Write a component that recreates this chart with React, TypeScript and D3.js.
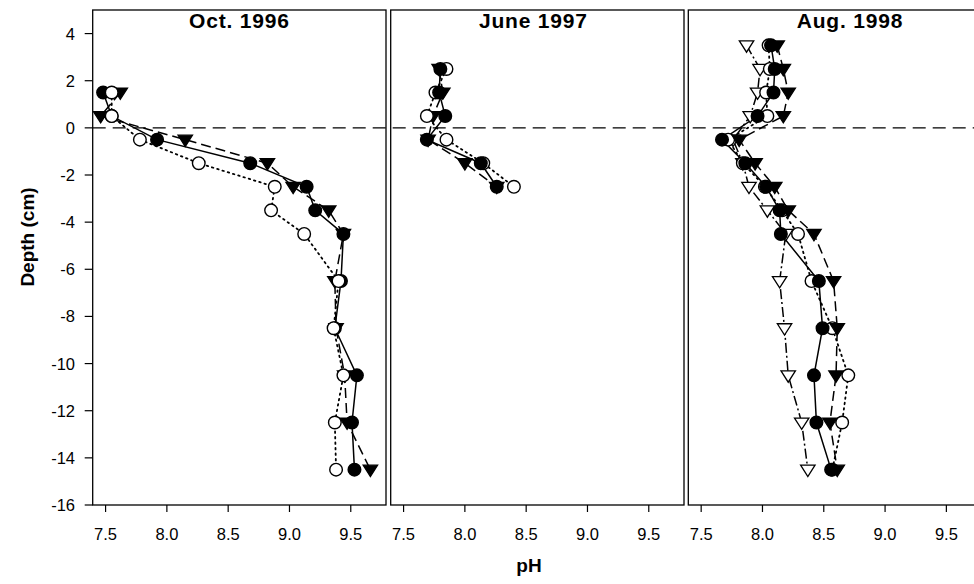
import React from "react";
import * as d3 from "d3";

// ---- data ----
const panelTitles = ["Oct. 1996", "June 1997", "Aug. 1998"];
const xTicks = [7.5, 8.0, 8.5, 9.0, 9.5];
const yTicks = [4, 2, 0, -2, -4, -6, -8, -10, -12, -14, -16];

const octDepth = [1.5, 0.5, -0.5, -1.5, -2.5, -3.5, -4.5, -6.5, -8.5, -10.5, -12.5, -14.5];
const octFilledCircle = [7.48, 7.55, 7.92, 8.68, 9.14, 9.21, 9.44, 9.42, 9.37, 9.55, 9.51, 9.53];
const octFilledTriangle = [7.62, 7.46, 8.15, 8.82, 9.03, 9.32, 9.44, 9.37, 9.38, 9.45, 9.47, 9.66];
const octOpenCircle = [7.55, 7.55, 7.78, 8.26, 8.88, 8.85, 9.12, 9.40, 9.36, 9.44, 9.37, 9.38];

const junDepth = [2.5, 1.5, 0.5, -0.5, -1.5, -2.5];
const junFilledCircle = [7.80, 7.79, 7.84, 7.69, 8.13, 8.26];
const junFilledTriangle = [7.79, 7.82, 7.74, 7.70, 8.00, 8.26];
const junOpenCircle = [7.85, 7.76, 7.69, 7.85, 8.15, 8.40];

const augDepth = [3.5, 2.5, 1.5, 0.5, -0.5, -1.5, -2.5, -3.5, -4.5, -6.5, -8.5, -10.5, -12.5, -14.5];
const augFilledCircle = [8.07, 8.10, 8.09, 7.96, 7.67, 7.86, 8.03, 8.14, 8.15, 8.46, 8.49, 8.42, 8.44, 8.56];
const augFilledTriangle = [8.12, 8.17, 8.21, 8.17, 7.81, 7.94, 8.10, 8.21, 8.42, 8.58, 8.61, 8.60, 8.55, 8.61];
const augOpenCircle = [8.05, 8.06, 8.03, 8.04, 7.72, 7.84, 8.02, 8.16, 8.29, 8.40, 8.57, 8.70, 8.65, 8.57];
const augOpenTriangle = [7.87, 7.98, 7.96, 7.90, 7.76, 7.84, 7.89, 8.04, 8.19, 8.14, 8.18, 8.21, 8.32, 8.37];

type Kind = "filledTriangle" | "filledCircle" | "openTriangle" | "openCircle";
interface Series { kind: Kind; depth: number[]; ph: number[] }

const panels: Series[][] = [
  [
    { kind: "filledTriangle", depth: octDepth, ph: octFilledTriangle },
    { kind: "filledCircle", depth: octDepth, ph: octFilledCircle },
    { kind: "openCircle", depth: octDepth, ph: octOpenCircle },
  ],
  [
    { kind: "filledTriangle", depth: junDepth, ph: junFilledTriangle },
    { kind: "openCircle", depth: junDepth, ph: junOpenCircle },
    { kind: "filledCircle", depth: junDepth, ph: junFilledCircle },
  ],
  [
    { kind: "openTriangle", depth: augDepth, ph: augOpenTriangle },
    { kind: "openCircle", depth: augDepth, ph: augOpenCircle },
    { kind: "filledCircle", depth: augDepth, ph: augFilledCircle },
    { kind: "filledTriangle", depth: augDepth, ph: augFilledTriangle },
  ],
];

// ---- layout ----
const W = 974;
const H = 584;
const panelLefts = [92.7, 390.7, 688.3];
const panelW = 293.3;
const titleDx = [0, -4, 15];
const top = 10;
const bottom = 505;
const FONT = "Arial, 'Liberation Sans', Helvetica, sans-serif";

const y = d3.scaleLinear().domain([-16, 5]).range([bottom, top]);

const dashFor: Record<Kind, string | undefined> = {
  filledCircle: undefined,
  filledTriangle: "10,5",
  openCircle: "1.5,4",
  openTriangle: "10,3,2,3",
};

function Marker({ kind, cx, cy }: { kind: Kind; cx: number; cy: number }) {
  const filled = kind === "filledCircle" || kind === "filledTriangle";
  const fill = filled ? "#000" : "#fff";
  if (kind === "filledCircle" || kind === "openCircle") {
    return <circle cx={cx} cy={cy} r={6.3} fill={fill} stroke="#000" strokeWidth={1.4} />;
  }
  const s = 7.2;
  const p = `M${cx - s},${cy - s * 0.62} L${cx + s},${cy - s * 0.62} L${cx},${cy + s * 0.95} Z`;
  return <path d={p} fill={fill} stroke="#000" strokeWidth={1.3} strokeLinejoin="miter" />;
}

function Panel({ idx }: { idx: number }) {
  const left = panelLefts[idx];
  const x = d3.scaleLinear().domain([7.395, 7.395 + panelW / 122.6]).range([left, left + panelW]);
  const line = d3
    .line<[number, number]>()
    .x((d) => x(d[0]))
    .y((d) => y(d[1]));
  const series = panels[idx];
  return (
    <g>
      <rect x={left} y={top} width={panelW} height={bottom - top} fill="none" stroke="#000" strokeWidth={1.3} />
      {xTicks.map((t) => (
        <g key={t}>
          <line x1={x(t)} x2={x(t)} y1={bottom} y2={bottom + 7} stroke="#000" strokeWidth={1.2} />
          <text x={x(t)} y={540} textAnchor="middle" fontSize={16.5} fontFamily={FONT} fill="#000">
            {t.toFixed(1)}
          </text>
        </g>
      ))}
      <text
        x={left + panelW / 2 + titleDx[idx]}
        y={28}
        textAnchor="middle"
        fontSize={21}
        fontWeight="bold"
        letterSpacing={0.8}
        fontFamily={FONT}
        fill="#000"
      >
        {panelTitles[idx]}
      </text>
      {series.map((s, i) => {
        const pts = s.ph.map((p, j) => [p, s.depth[j]] as [number, number]);
        return (
          <path
            key={"l" + i}
            d={line(pts) || ""}
            fill="none"
            stroke="#000"
            strokeWidth={s.kind === "openCircle" ? 1.8 : 1.5}
            strokeDasharray={dashFor[s.kind]}
            strokeLinecap={s.kind === "openCircle" ? "round" : "butt"}
          />
        );
      })}
      {series.map((s, i) => (
        <g key={"m" + i}>
          {s.ph.map((p, j) => (
            <Marker key={j} kind={s.kind} cx={x(p)} cy={y(s.depth[j])} />
          ))}
        </g>
      ))}
    </g>
  );
}

export default function App() {
  return (
    <svg
      width={W}
      height={H}
      viewBox={`0 0 ${W} ${H}`}
      style={{ position: "absolute", left: 0, top: 0, background: "#fff" }}
    >
      <rect x={0} y={0} width={W} height={H} fill="#fff" />
      {[0, 1, 2].map((i) => (
        <Panel key={i} idx={i} />
      ))}
      {/* zero line */}
      <line x1={panelLefts[0]} x2={W} y1={y(0)} y2={y(0)} stroke="#000" strokeWidth={1.2} strokeDasharray="13,7" />
      {/* y axis ticks */}
      {yTicks.map((t) => (
        <g key={t}>
          <line x1={panelLefts[0] - 8} x2={panelLefts[0]} y1={y(t)} y2={y(t)} stroke="#000" strokeWidth={1.2} />
          <text x={75} y={y(t)} dy="0.36em" textAnchor="end" fontSize={16.5} fontFamily={FONT} fill="#000">
            {t}
          </text>
        </g>
      ))}
      <text
        transform={`translate(34,${237}) rotate(-90)`}
        textAnchor="middle"
        fontSize={19}
        fontWeight="bold"
        fontFamily={FONT}
        fill="#000"
      >
        Depth (cm)
      </text>
      <text x={529} y={572} textAnchor="middle" fontSize={19} fontWeight="bold" fontFamily={FONT} fill="#000">
        pH
      </text>
    </svg>
  );
}
